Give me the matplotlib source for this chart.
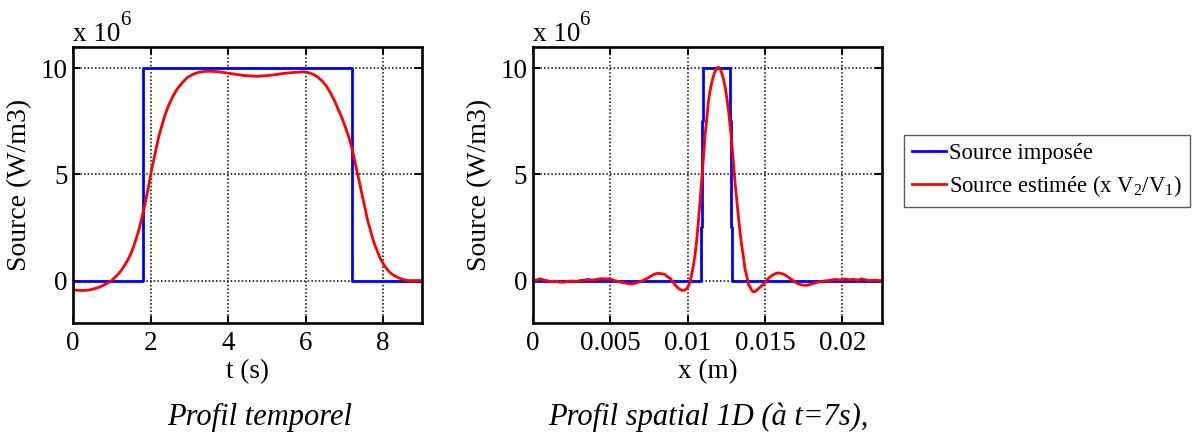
import matplotlib
matplotlib.use("Agg")
import matplotlib.pyplot as plt
from matplotlib.ticker import FixedLocator, FixedFormatter

plt.rcParams['font.family'] = ['Liberation Serif', 'DejaVu Serif']
plt.rcParams['mathtext.fontset'] = 'custom'
plt.rcParams['mathtext.rm'] = 'Liberation Serif'
plt.rcParams['mathtext.it'] = 'Liberation Serif:italic'
plt.rcParams['mathtext.default'] = 'regular'

# ---------------- data (source values in units of 1e6 W/m3) ----------------
t_imposed = [0.0, 1.8, 1.8, 7.2, 7.2, 9.0]
s_imposed_t = [0, 0, 10, 10, 0, 0]

t_est = [0.00, 0.14, 0.27, 0.40, 0.52, 0.65, 0.78, 0.89, 1.00, 1.10, 1.21, 1.32,
         1.43, 1.52, 1.60, 1.69, 1.77, 1.84, 1.90, 1.97, 2.03, 2.10, 2.16, 2.22,
         2.29, 2.37, 2.46, 2.57, 2.68, 2.81, 2.94, 3.09, 3.24, 3.39, 3.54, 3.78,
         4.10, 4.40, 4.75, 5.10, 5.45, 5.75, 5.95, 6.08, 6.21, 6.32, 6.43, 6.54,
         6.64, 6.75, 6.86, 6.95, 7.03, 7.12, 7.20, 7.27, 7.33, 7.40, 7.46, 7.53,
         7.59, 7.68, 7.76, 7.85, 7.93, 8.04, 8.15, 8.25, 8.36, 8.49, 8.62, 8.80,
         9.00]
s_est_t = [-0.44, -0.46, -0.47, -0.45, -0.40, -0.33, -0.23, -0.12, 0.00, 0.18, 0.39, 0.68,
           1.02, 1.38, 1.80, 2.32, 2.90, 3.45, 3.99, 4.62, 5.24, 5.82, 6.34, 6.83,
           7.28, 7.78, 8.22, 8.65, 9.00, 9.30, 9.55, 9.71, 9.81, 9.85, 9.86, 9.83,
           9.74, 9.66, 9.62, 9.67, 9.76, 9.81, 9.83, 9.79, 9.70, 9.57, 9.39, 9.15,
           8.84, 8.45, 7.98, 7.60, 7.20, 6.72, 6.18, 5.62, 5.08, 4.53, 3.99, 3.43,
           2.90, 2.30, 1.80, 1.38, 1.02, 0.68, 0.42, 0.27, 0.16, 0.06, 0.00, 0.00,
           0.00]

x_imposed = [0.0, 0.01087, 0.01087, 0.01094, 0.01094, 0.01101, 0.01101,
             0.01275, 0.01275, 0.01281, 0.01281, 0.01286, 0.01286, 0.02256]
s_imposed_x = [0, 0, 2.5, 2.5, 7.5, 7.5, 10, 10, 7.5, 7.5, 2.5, 2.5, 0, 0]

x_est = [0.00000, 0.00025, 0.00047, 0.00070, 0.00090, 0.00115, 0.00144, 0.00170,
         0.00198, 0.00225, 0.00252, 0.00280, 0.00306, 0.00332, 0.00359, 0.00385,
         0.00413, 0.00440, 0.00467, 0.00500, 0.00520, 0.00543, 0.00570, 0.00596,
         0.00620, 0.00640, 0.00660, 0.00682, 0.00705, 0.00725, 0.00748, 0.00769,
         0.00790, 0.00811, 0.00833, 0.00855, 0.00870, 0.00887, 0.00903, 0.00919,
         0.00935, 0.00952, 0.00968, 0.00984, 0.00998, 0.01012, 0.01027, 0.01040,
         0.01048, 0.01059, 0.01070, 0.01081, 0.01092, 0.01103, 0.01113, 0.01124,
         0.01134, 0.01145, 0.01156, 0.01167, 0.01178, 0.01190, 0.01199, 0.01210,
         0.01221, 0.01232, 0.01242, 0.01253, 0.01264, 0.01275, 0.01286, 0.01296,
         0.01307, 0.01318, 0.01328, 0.01339, 0.01350, 0.01360, 0.01371, 0.01382,
         0.01393, 0.01404, 0.01414, 0.01425, 0.01440, 0.01457, 0.01480, 0.01501,
         0.01522, 0.01544, 0.01565, 0.01587, 0.01608, 0.01630, 0.01650, 0.01673,
         0.01694, 0.01716, 0.01737, 0.01759, 0.01780, 0.01802, 0.01830, 0.01856,
         0.01883, 0.01910, 0.01937, 0.01964, 0.01990, 0.02017, 0.02044, 0.02071,
         0.02098, 0.02125, 0.02150, 0.02179, 0.02205, 0.02233, 0.02256]
s_est_x = [0.05, 0.02, 0.08, 0.03, 0.00, -0.05, -0.03, -0.07,
           -0.08, -0.04, -0.02, -0.05, 0.00, 0.02, 0.05, 0.02,
           0.05, 0.09, 0.08, 0.08, 0.02, -0.03, -0.08, -0.11,
           -0.15, -0.16, -0.13, -0.08, -0.02, 0.05, 0.14, 0.23,
           0.31, 0.34, 0.32, 0.28, 0.18, 0.11, -0.05, -0.20,
           -0.33, -0.42, -0.47, -0.44, -0.36, -0.16, 0.30, 0.80,
           1.17, 1.88, 2.74, 3.75, 4.77, 5.80, 6.81, 7.60,
           8.37, 8.90, 9.31, 9.62, 9.86, 10.00, 10.05, 9.98,
           9.78, 9.50, 9.15, 8.65, 8.06, 7.30, 6.49, 5.55,
           4.62, 3.80, 3.05, 2.30, 1.64, 1.17, 0.55, 0.23,
           -0.16, -0.31, -0.45, -0.53, -0.50, -0.39, -0.24, -0.08,
           0.10, 0.23, 0.32, 0.36, 0.33, 0.27, 0.16, 0.05,
           -0.06, -0.16, -0.20, -0.23, -0.21, -0.16, -0.10, -0.05,
           -0.02, 0.00, 0.04, 0.05, 0.02, 0.08, 0.03, 0.06,
           0.02, 0.08, 0.03, 0.00, 0.02, 0.00, 0.00]

t_ticks = [0, 2, 4, 6, 8]
t_ticklabels = ['0', '2', '4', '6', '8']
x_ticks = [0, 0.005, 0.01, 0.015, 0.02]
x_ticklabels = ['0', '0.005', '0.01', '0.015', '0.02']
y_ticks = [0, 5, 10]
y_ticklabels = ['0', '5', '10']

label_imposed = 'Source imposée'
label_est = 'Source estimée (x V$_2$/V$_1$)'

# ---------------- figure ----------------
fig = plt.figure(figsize=(11.92, 4.32), dpi=100)
ax1 = fig.add_axes([0.0612, 0.2523, 0.2928, 0.6389])
ax2 = fig.add_axes([0.4469, 0.2523, 0.2930, 0.6389])

BLUE = (0, 0, 1)
RED = (1, 0, 0)


def style(ax, xticks, xlabels, xlim, xlabel):
    ax.set_xlim(*xlim)
    ax.set_ylim(-2, 11)
    ax.xaxis.set_major_locator(FixedLocator(xticks))
    ax.xaxis.set_major_formatter(FixedFormatter(xlabels))
    ax.yaxis.set_major_locator(FixedLocator(y_ticks))
    ax.yaxis.set_major_formatter(FixedFormatter(y_ticklabels))
    ax.tick_params(direction='in', top=True, right=True, length=5, width=1.4,
                   labelsize=19.5)
    ax.tick_params(axis='x', pad=6)
    ax.tick_params(axis='y', pad=4)
    ax.grid(True, color='black', linestyle=(0, (1, 1.4)), linewidth=1.1)
    ax.set_axisbelow(True)
    for sp in ax.spines.values():
        sp.set_linewidth(1.9)
        sp.set_color('black')
    ax.set_xlabel(xlabel, fontsize=19.5, labelpad=2)
    ax.set_ylabel('Source (W/m3)', fontsize=20, labelpad=6)
    ax.text(0, 1 + 6.5 / 276, 'x 10', transform=ax.transAxes,
            fontsize=19.5, ha='left', va='baseline')
    ax.text(0.134, 1 + 22 / 276, '6', transform=ax.transAxes,
            fontsize=15, ha='left', va='baseline')


l1, = ax1.plot(t_imposed, s_imposed_t, color=BLUE, lw=2.0, label=label_imposed)
l2, = ax1.plot(t_est, s_est_t, color=RED, lw=2.0, label=label_est)
style(ax1, t_ticks, t_ticklabels, (0, 9), 't (s)')

ax2.plot(x_imposed, s_imposed_x, color=BLUE, lw=2.0)
ax2.plot(x_est, s_est_x, color=RED, lw=2.0)
style(ax2, x_ticks, x_ticklabels, (0, 0.02256), 'x (m)')

leg = fig.legend(handles=[l1, l2], labels=[label_imposed, label_est],
                 loc='upper left', bbox_to_anchor=(0.7584, 0.6875),
                 bbox_transform=fig.transFigure, borderaxespad=0,
                 fontsize=16.3, frameon=True, fancybox=False,
                 handlelength=1.5, handletextpad=0.15, borderpad=0.35,
                 labelspacing=0.4)
leg.get_frame().set_edgecolor('#333333')
leg.get_frame().set_linewidth(1.0)

fig.text(0.2181, 0.0162, 'Profil temporel', fontsize=22, style='italic',
         ha='center', va='baseline')
fig.text(0.5944, 0.0162, 'Profil spatial 1D (à t=7s),', fontsize=22,
         style='italic', ha='center', va='baseline')

fig.savefig('out.png', dpi=100)
